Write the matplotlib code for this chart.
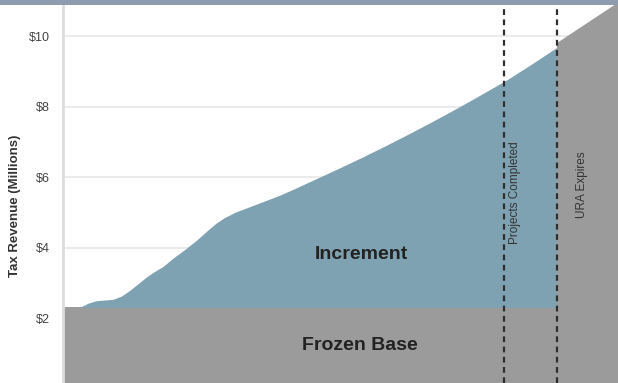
import matplotlib
matplotlib.use("Agg")
import matplotlib.pyplot as plt
from matplotlib.patches import Rectangle

# ---- data ----
x_pos = [0, 3, 4.5, 6, 9, 10.5, 12, 13.5, 15, 16.5, 18, 20, 22, 24, 26, 27.5, 29, 31, 33,
         36, 39, 42, 46, 50, 54, 58, 62, 66, 70, 74, 78, 80, 84, 89]
total_rev = [2.30, 2.30, 2.42, 2.49, 2.53, 2.62, 2.78, 2.97, 3.16, 3.32, 3.46, 3.72, 3.95, 4.20,
             4.48, 4.68, 4.84, 5.00, 5.12, 5.30, 5.48, 5.69, 5.98, 6.27, 6.57, 6.88, 7.20,
             7.53, 7.87, 8.22, 8.58, 8.76, 9.16, 9.68]
frozen_base = 2.30
after_x = [89, 101]
after_rev = [9.80, 11.05]
completion_x = 79.5
expiry_x = 89.0
yticks = [2, 4, 6, 8, 10]
ytick_labels = ["$2", "$4", "$6", "$8", "$10"]

W, H = 618, 383
fig = plt.figure(figsize=(W / 100, H / 100), dpi=100)
fig.patch.set_facecolor("white")
ax = fig.add_axes([63 / W, 0, (W - 63) / W, (H - 5) / H])

ymin, ymax = 0.156, 10.88
blue = "#7fa2b2"
grey = "#9b9b9b"

ax.set_xlim(0, 100)
ax.set_ylim(ymin, ymax)

# grid
for t in yticks:
    ax.axhline(t, color="#e9e9e9", lw=1.3, zorder=0)

ax.fill_between(x_pos, ymin, frozen_base, color=grey, lw=0, zorder=2)
ax.fill_between(x_pos, frozen_base, total_rev, color=blue, lw=0, zorder=2)
ax.fill_between(after_x, ymin, after_rev, color=grey, lw=0, zorder=2)

for xv in (completion_x, expiry_x):
    ax.axvline(xv, color="#2e2e2e", lw=1.6, ls=(0, (2.6, 2.0)), zorder=3)

ax.set_yticks(yticks)
ax.set_yticklabels(ytick_labels, fontsize=9, color="#444444", family="Liberation Sans")
ax.tick_params(axis="y", length=0, pad=9.5)
ax.set_xticks([])
for s in ("top", "right", "bottom"):
    ax.spines[s].set_visible(False)
ax.spines["left"].set_color("#dddddd")
ax.spines["left"].set_linewidth(2)

ax.text(53.7, 3.79, "Increment", ha="center", va="center", fontsize=14,
        fontweight="bold", color="#222222", family="Liberation Sans", zorder=4)
ax.text(53.5, 1.23, "Frozen Base", ha="center", va="center", fontsize=14,
        fontweight="bold", color="#222222", family="Liberation Sans", zorder=4)
ax.text(81.4, 5.55, "Projects Completed", ha="center", va="center", rotation=90,
        fontsize=8.5, color="#333333", family="Liberation Sans", zorder=4)
ax.text(93.5, 5.77, "URA Expires", ha="center", va="center", rotation=90,
        fontsize=8.5, color="#333333", family="Liberation Sans", zorder=4)

fig.text(15 / W, 1 - 206 / H, "Tax Revenue (Millions)", rotation=90, ha="center",
         va="center", fontsize=9.5, fontweight="bold", color="#333333",
         family="Liberation Sans")

fig.patches.append(Rectangle((0, 1 - 5 / H), 1, 5 / H, transform=fig.transFigure,
                             facecolor="#8d9caf", edgecolor="none", zorder=10))

fig.savefig("out.png", dpi=100)
